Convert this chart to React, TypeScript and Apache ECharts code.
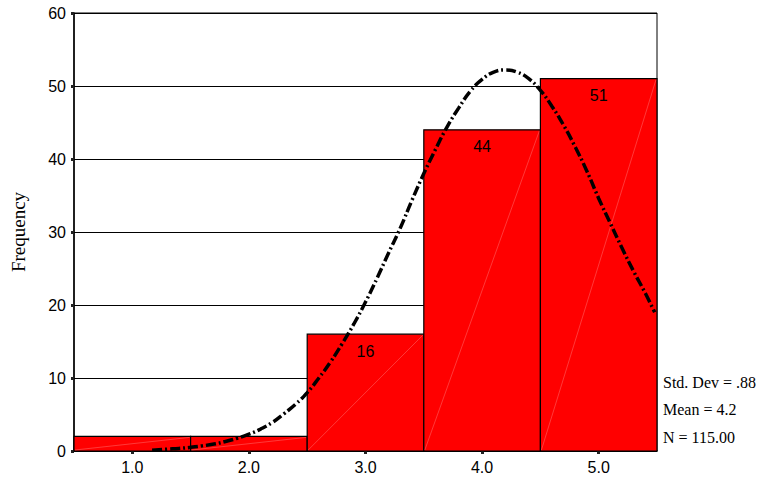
import React, { useEffect, useRef } from "react";
import * as echarts from "echarts";

const categories = ["1.0", "2.0", "3.0", "4.0", "5.0"];
const frequencies = [2, 2, 16, 44, 51];
const barLabels = ["", "", "16", "44", "51"];
const yTicks = [0, 10, 20, 30, 40, 50, 60];
const curveX = [1.17, 1.3, 1.4, 1.5, 1.6, 1.7, 1.8, 1.9, 2.0, 2.1, 2.2, 2.3, 2.4, 2.5, 2.6, 2.7, 2.8, 2.9, 3.0, 3.1, 3.2, 3.3, 3.4, 3.5, 3.6, 3.7, 3.8, 3.9, 4.0, 4.1, 4.2, 4.3, 4.4, 4.5, 4.6, 4.7, 4.8, 4.9, 5.0, 5.1, 5.2, 5.3, 5.4, 5.48];
const curveY = [0.1, 0.25, 0.35, 0.5, 0.7, 0.95, 1.3, 1.75, 2.3, 3.0, 3.9, 5.1, 6.4, 8.0, 10.0, 12.2, 14.7, 17.4, 20.4, 23.7, 27.2, 30.6, 34.4, 38.0, 41.3, 44.4, 47.0, 49.3, 50.9, 51.9, 52.2, 51.9, 51.0, 49.4, 47.2, 44.6, 41.6, 38.3, 34.6, 31.2, 27.8, 24.6, 21.6, 19.0];
const statLines = ["Std. Dev = .88", "Mean = 4.2", "N = 115.00"];

export default function App() {
  const ref = useRef<HTMLDivElement>(null);
  useEffect(() => {
    if (!ref.current) return;
    const chart = echarts.init(ref.current, null, { renderer: "svg" });
    const sans = "'Liberation Sans', Arial, sans-serif";
    const serif = "'Liberation Serif', 'Times New Roman', serif";
    chart.setOption({
      animation: false,
      backgroundColor: "#ffffff",
      grid: { left: 74, right: 104, top: 13, bottom: 29, show: true, borderColor: "#000", borderWidth: 1, backgroundColor: "transparent" },
      xAxis: [
        {
          type: "category",
          data: categories,
          boundaryGap: true,
          axisLine: { show: true, lineStyle: { color: "#000", width: 1.5 } },
          axisTick: { show: true, alignWithLabel: true, length: 3, lineStyle: { color: "#222", width: 3 } },
          axisLabel: { color: "#000", fontSize: 16, fontFamily: sans, margin: 8 },
          splitLine: { show: false },
        },
        { type: "value", min: 0.5, max: 5.5, show: false },
      ],
      yAxis: {
        type: "value",
        min: yTicks[0],
        max: yTicks[yTicks.length - 1],
        interval: 10,
        name: "Frequency",
        nameLocation: "middle",
        nameGap: 46,
        nameTextStyle: { color: "#000", fontSize: 19, fontFamily: serif },
        axisLine: { show: true, lineStyle: { color: "#000", width: 1.5 } },
        axisTick: { show: true, length: 3, lineStyle: { color: "#222", width: 3 } },
        axisLabel: { color: "#000", fontSize: 16, fontFamily: sans, margin: 8 },
        splitLine: { show: true, lineStyle: { color: "#000", width: 1 } },
      },
      series: [
        {
          type: "custom",
          xAxisIndex: 0,
          data: frequencies.map((v, i) => [i, v]),
          encode: { x: 0, y: 1 },
          z: 2,
          renderItem: (params: any, api: any) => {
            const idx = api.value(0);
            const v = api.value(1);
            const top = api.coord([idx, v]);
            const bottom = api.coord([idx, 0]);
            const w = api.size([1, 0])[0];
            const x0 = top[0] - w / 2;
            const children: any[] = [
              {
                type: "rect",
                shape: { x: x0, y: top[1], width: w, height: bottom[1] - top[1] },
                style: { fill: "#ff0000", stroke: "#000", lineWidth: 1.2 },
              },
              {
                type: "line",
                shape: { x1: x0 + 1, y1: bottom[1] - 1, x2: x0 + w - 1, y2: top[1] + 1 },
                style: { stroke: "rgba(255,255,255,0.45)", lineWidth: 0.5 },
              },
            ];
            const label = barLabels[idx];
            if (label) {
              children.push({
                type: "text",
                x: top[0],
                y: top[1] + 9,
                style: { text: label, fill: "#000", font: "16px " + sans, align: "center", verticalAlign: "top" },
              });
            }
            return { type: "group", children };
          },
        },
        {
          type: "line",
          xAxisIndex: 1,
          data: curveX.map((x, i) => [x, curveY[i]]),
          smooth: true,
          showSymbol: false,
          z: 5,
          lineStyle: { color: "#000", width: 3.5, type: [10, 3, 2, 3] },
        },
      ],
      graphic: statLines.map((t, i) => ({
        type: "text",
        x: 663,
        y: 382 + i * 27.5,
        style: { text: t, fill: "#000", font: "16px " + serif, align: "left", verticalAlign: "middle" },
      })),
    });
    return () => chart.dispose();
  }, []);
  return <div ref={ref} style={{ position: "fixed", left: 0, top: 0, width: 761, height: 480 }} />;
}
